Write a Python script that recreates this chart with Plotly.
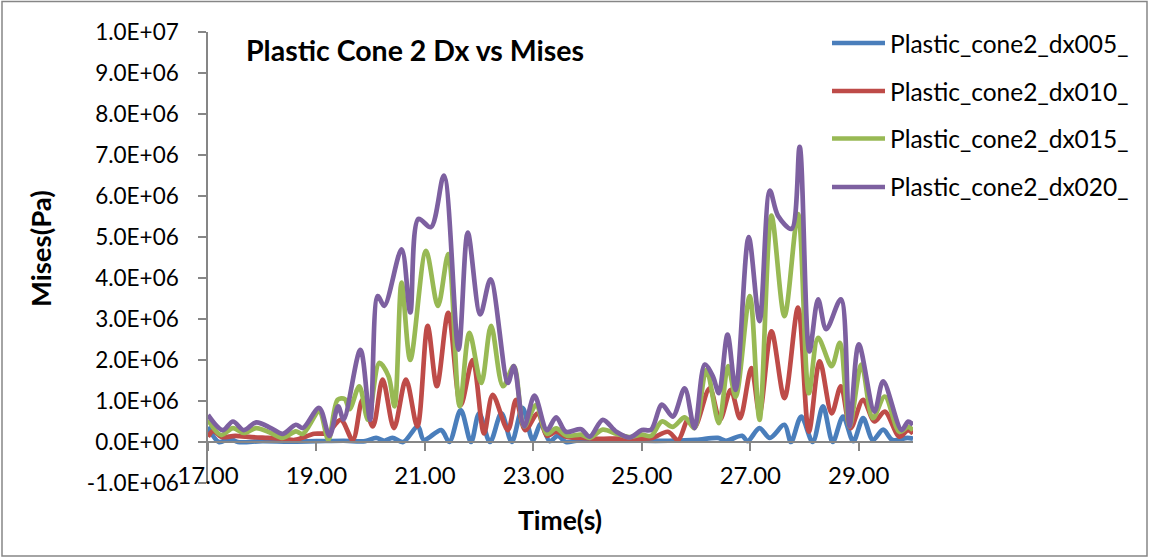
import plotly.graph_objects as go

# ---------------- data ----------------
series_names = ["Plastic_cone2_dx005_", "Plastic_cone2_dx010_",
                "Plastic_cone2_dx015_", "Plastic_cone2_dx020_"]
series_colors = ["#4A7EBB", "#BE4B48", "#98B954", "#7D60A0"]

# values in units of 1e6 Pa
t_dx005 = [17.00, 17.20, 17.40, 17.55, 18.00, 18.50, 19.00, 19.50, 19.90, 20.10, 20.25,
           20.40, 20.60, 20.87, 20.98, 21.30, 21.45, 21.66, 21.85, 22.00, 22.20, 22.41,
           22.60, 22.80, 22.99, 23.14, 23.30, 23.45, 23.60, 23.80, 24.50, 25.00, 25.50,
           26.00, 26.40, 26.55, 26.85, 26.95, 27.17, 27.36, 27.63, 27.75, 27.94, 28.15,
           28.34, 28.52, 28.71, 28.90, 29.08, 29.26, 29.45, 29.62, 29.90, 30.00]
v_dx005 = [0.37, 0.00, 0.08, 0.00, 0.02, 0.01, 0.02, 0.03, 0.02, 0.10, 0.03,
           0.10, 0.00, 0.38, 0.05, 0.29, 0.00, 0.78, 0.00, 0.70, 0.00, 0.70,
           0.00, 0.83, 0.05, 0.45, 0.02, 0.15, 0.00, 0.03, 0.05, 0.03, 0.03,
           0.05, 0.10, 0.03, 0.15, 0.02, 0.34, 0.10, 0.42, 0.00, 0.62, 0.00,
           0.87, 0.00, 0.62, 0.02, 0.58, 0.05, 0.30, 0.05, 0.10, 0.08]

t_dx010 = [17.00, 17.10, 17.25, 17.50, 17.80, 18.10, 18.40, 18.60, 18.96, 19.20, 19.45,
           19.67, 19.85, 20.04, 20.22, 20.43, 20.65, 20.86, 21.05, 21.22, 21.43, 21.66,
           21.88, 22.09, 22.25, 22.53, 22.68, 22.85, 23.08, 23.25, 23.42, 23.62, 23.88,
           24.10, 24.40, 24.80, 25.00, 25.20, 25.48, 25.67, 25.85, 25.97, 26.25, 26.44,
           26.64, 26.81, 27.02, 27.17, 27.39, 27.63, 27.88, 28.08, 28.28, 28.50, 28.67,
           28.85, 29.08, 29.29, 29.48, 29.75, 29.91, 30.00]
v_dx010 = [0.13, 0.27, 0.12, 0.15, 0.12, 0.10, 0.08, 0.05, 0.20, 0.22, 0.54,
           0.05, 1.03, 0.38, 1.52, 0.34, 1.52, 0.38, 2.83, 1.36, 3.15, 0.90,
           2.00, 0.21, 1.15, 0.29, 1.03, 0.29, 0.70, 0.15, 0.25, 0.12, 0.10,
           0.08, 0.08, 0.08, 0.08, 0.10, 0.25, 0.05, 0.54, 0.36, 1.31, 0.54,
           1.27, 0.58, 1.80, 0.70, 2.70, 1.07, 3.28, 0.25, 1.97, 0.70, 1.36,
           0.34, 1.03, 0.50, 0.74, 0.13, 0.29, 0.20]

t_dx015 = [17.00, 17.24, 17.46, 17.66, 17.89, 18.16, 18.38, 18.62, 18.75, 19.05, 19.22,
           19.39, 19.52, 19.61, 19.79, 19.95, 20.16, 20.33, 20.44, 20.57, 20.73, 21.02,
           21.24, 21.43, 21.64, 21.82, 22.04, 22.22, 22.44, 22.64, 22.83, 23.05, 23.25,
           23.42, 23.62, 23.88, 24.04, 24.28, 24.53, 24.77, 25.00, 25.17, 25.37, 25.57,
           25.79, 25.97, 26.19, 26.42, 26.59, 26.73, 26.99, 27.17, 27.39, 27.63, 27.88,
           28.08, 28.25, 28.50, 28.65, 28.83, 29.05, 29.26, 29.48, 29.75, 29.91, 30.00]
v_dx015 = [0.54, 0.17, 0.34, 0.22, 0.34, 0.22, 0.10, 0.26, 0.20, 0.74, 0.05,
           1.03, 1.05, 0.80, 1.36, 0.54, 1.93, 1.60, 0.87, 3.89, 2.00, 4.66,
           3.32, 4.58, 0.87, 2.66, 1.44, 2.83, 1.36, 1.85, 0.38, 0.90, 0.20,
           0.33, 0.15, 0.18, 0.10, 0.30, 0.20, 0.12, 0.18, 0.15, 0.50, 0.37,
           0.60, 0.34, 1.76, 0.46, 1.85, 1.10, 3.56, 0.54, 5.52, 3.07, 5.56,
           1.19, 2.54, 1.85, 2.42, 0.38, 1.89, 0.58, 1.11, 0.25, 0.37, 0.29]

t_dx020 = [17.00, 17.27, 17.46, 17.66, 17.89, 18.16, 18.38, 18.62, 18.75, 19.05, 19.24,
           19.40, 19.50, 19.81, 19.99, 20.13, 20.25, 20.57, 20.73, 20.88, 21.11, 21.35,
           21.62, 21.79, 22.02, 22.21, 22.53, 22.64, 22.83, 23.02, 23.25, 23.42, 23.60,
           23.88, 24.04, 24.28, 24.53, 24.77, 25.00, 25.17, 25.37, 25.57, 25.79, 25.97,
           26.16, 26.31, 26.42, 26.58, 26.73, 26.97, 27.17, 27.36, 27.51, 27.76, 27.91,
           28.09, 28.25, 28.40, 28.67, 28.83, 29.00, 29.29, 29.45, 29.79, 29.91, 30.00]
v_dx020 = [0.66, 0.29, 0.50, 0.29, 0.48, 0.34, 0.20, 0.42, 0.34, 0.83, 0.15,
           0.87, 0.55, 2.25, 0.54, 3.56, 3.32, 4.70, 3.16, 5.44, 5.24, 6.50,
           2.25, 5.11, 3.11, 3.97, 1.44, 1.85, 0.38, 1.13, 0.29, 0.60, 0.25,
           0.31, 0.13, 0.54, 0.25, 0.11, 0.29, 0.30, 0.91, 0.62, 1.31, 0.34,
           1.89, 1.60, 1.19, 2.62, 1.27, 5.00, 2.95, 6.13, 5.52, 5.20, 7.20,
           2.21, 3.48, 2.75, 3.48, 0.38, 2.38, 0.74, 1.48, 0.29, 0.50, 0.42]

series_t = [t_dx005, t_dx010, t_dx015, t_dx020]
series_v = [v_dx005, v_dx010, v_dx015, v_dx020]
SCALE = 1e6

y_tickvals = [-1e6, 0, 1e6, 2e6, 3e6, 4e6, 5e6, 6e6, 7e6, 8e6, 9e6, 1e7]
y_ticktext = ["-1.0E+06", "0.0E+00", "1.0E+06", "2.0E+06", "3.0E+06", "4.0E+06",
              "5.0E+06", "6.0E+06", "7.0E+06", "8.0E+06", "9.0E+06", "1.0E+07"]
x_tickvals = [17, 19, 21, 23, 25, 27, 29]
x_ticktext = ["17.00", "19.00", "21.00", "23.00", "25.00", "27.00", "29.00"]

title_text = "Plastic Cone 2 Dx vs Mises"
x_title = "Time(s)"
y_title = "Mises(Pa)"

# ---------------- layout geometry ----------------
W, H = 1149, 558
L, R, T, B = 208, 236, 32, 75
PW, PH = W - L - R, H - T - B
FONT = "Lato"
AX = "#868686"


def px_x(p):
    return (p - L) / PW


def px_y(p):
    return (H - B - p) / PH


fig = go.Figure()
for name, col, tt, vv in zip(series_names, series_colors, series_t, series_v):
    fig.add_trace(go.Scatter(
        x=tt, y=[v * SCALE for v in vv], mode="lines", name=name,
        line=dict(color=col, width=4.7, shape="spline", smoothing=0.9),
        showlegend=False))

fig.update_layout(
    width=W, height=H,
    margin=dict(l=L, r=R, t=T, b=B, pad=0),
    paper_bgcolor="white", plot_bgcolor="white",
    font=dict(family=FONT, size=22, color="#000000"),
    showlegend=False,
)
fig.update_xaxes(
    range=[17, 30], tickvals=x_tickvals, ticktext=x_ticktext,
    showgrid=False, zeroline=False, showline=True, linecolor=AX, linewidth=1.5,
    ticks="outside", ticklen=8, tickcolor=AX, tickwidth=1.5,
    anchor="free", position=1 / 11, ticklabelstandoff=4,
    tickfont=dict(family=FONT, size=24),
)
fig.update_yaxes(
    range=[-1e6, 1e7], tickvals=y_tickvals, ticktext=y_ticktext,
    showgrid=False, zeroline=False, showline=True, linecolor=AX, linewidth=1.5,
    ticks="outside", ticklen=8, tickcolor=AX, tickwidth=1.5,
    ticklabelstandoff=15, tickfont=dict(family=FONT, size=22.5),
)

ann = [
    dict(text="<b>" + title_text + "</b>", x=px_x(244), y=px_y(50), xanchor="left",
         yanchor="middle", font=dict(size=28.5)),
    dict(text="<b>" + x_title + "</b>", x=px_x(560), y=px_y(520), xanchor="center",
         yanchor="middle", font=dict(size=26.5)),
    dict(text="<b>" + y_title + "</b>", x=px_x(40), y=px_y(249), xanchor="center",
         yanchor="middle", textangle=-90, font=dict(size=27.5)),
]
shapes = [dict(type="rect", xref="paper", yref="paper", x0=px_x(2), x1=px_x(1147),
               y0=px_y(556), y1=px_y(1.5), line=dict(color=AX, width=1.5),
               fillcolor="rgba(0,0,0,0)", layer="below")]
leg_y = [43, 91, 138.5, 187]
for name, col, ly in zip(series_names, series_colors, leg_y):
    shapes.append(dict(type="line", xref="paper", yref="paper", x0=px_x(832), x1=px_x(885),
                       y0=px_y(ly), y1=px_y(ly), line=dict(color=col, width=4.7)))
    ann.append(dict(text=name, x=px_x(888), y=px_y(ly), xanchor="left", yanchor="middle",
                    font=dict(size=24.5)))
for a in ann:
    a.update(xref="paper", yref="paper", showarrow=False)
fig.update_layout(annotations=ann, shapes=shapes)

fig.write_html("out.html")
